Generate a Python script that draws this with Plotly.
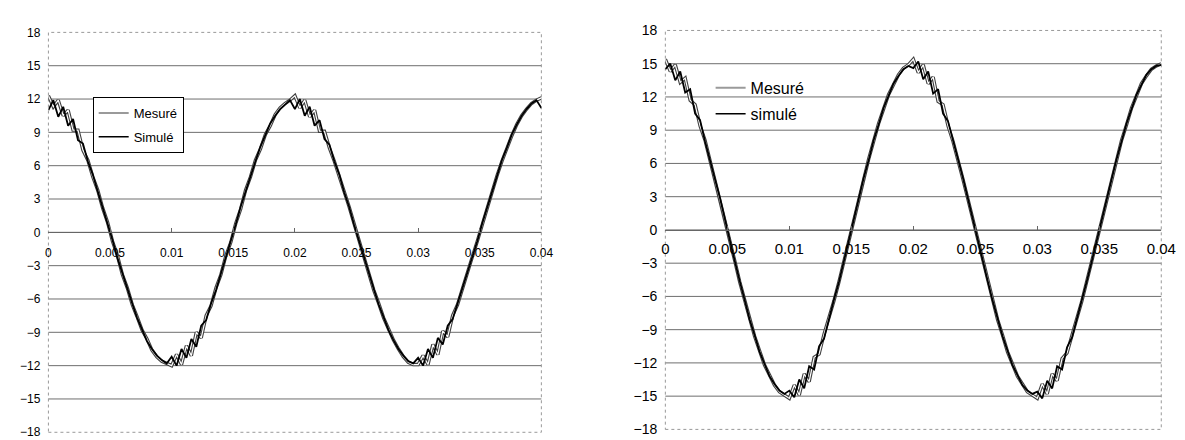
import plotly.graph_objects as go

# temps (s), pas de 0.4 ms
t = [0, 0.0004, 0.0008, 0.0012, 0.0016, 0.002, 0.0024, 0.0028, 0.0032, 0.0036,
     0.004, 0.0044, 0.0048, 0.0052, 0.0056, 0.006, 0.0064, 0.0068, 0.0072, 0.0076,
     0.008, 0.0084, 0.0088, 0.0092, 0.0096, 0.01, 0.0104, 0.0108, 0.0112, 0.0116,
     0.012, 0.0124, 0.0128, 0.0132, 0.0136, 0.014, 0.0144, 0.0148, 0.0152, 0.0156,
     0.016, 0.0164, 0.0168, 0.0172, 0.0176, 0.018, 0.0184, 0.0188, 0.0192, 0.0196,
     0.02, 0.0204, 0.0208, 0.0212, 0.0216, 0.022, 0.0224, 0.0228, 0.0232, 0.0236,
     0.024, 0.0244, 0.0248, 0.0252, 0.0256, 0.026, 0.0264, 0.0268, 0.0272, 0.0276,
     0.028, 0.0284, 0.0288, 0.0292, 0.0296, 0.03, 0.0304, 0.0308, 0.0312, 0.0316,
     0.032, 0.0324, 0.0328, 0.0332, 0.0336, 0.034, 0.0344, 0.0348, 0.0352, 0.0356,
     0.036, 0.0364, 0.0368, 0.0372, 0.0376, 0.038, 0.0384, 0.0388, 0.0392, 0.0396,
     0.04]

# graphe de gauche
mesure_g = [12.3, 11.3, 11.9, 10.5, 11.0, 9.2, 9.2, 7.4, 6.5, 5.0,
            3.8, 2.2, 0.9, -0.8, -2.1, -3.8, -5.0, -6.5, -7.6, -8.8,
            -9.6, -10.6, -11.2, -11.6, -11.8, -12.0, -11.0, -11.9, -10.2, -11.1,
            -9.0, -9.5, -7.5, -6.6, -5.0, -3.8, -2.1, -0.9, 0.8, 2.1,
            3.8, 5.0, 6.5, 7.5, 8.8, 9.6, 10.6, 11.2, 11.6, 11.9,
            12.3, 11.2, 11.9, 10.4, 11.0, 9.1, 9.1, 7.6, 6.4, 5.1,
            3.7, 2.3, 0.8, -0.7, -2.3, -3.7, -5.2, -6.4, -7.7, -8.7,
            -9.7, -10.5, -11.2, -11.7, -11.9, -11.9, -11.1, -11.9, -10.1, -11.0,
            -8.9, -9.4, -7.5, -6.5, -5.0, -3.7, -2.2, -0.8, 0.7, 2.2,
            3.7, 5.1, 6.4, 7.6, 8.7, 9.7, 10.5, 11.1, 11.6, 11.9,
            12.1]
simule_g = [11.0, 11.9, 10.4, 11.3, 9.6, 10.2, 8.3, 8.0, 6.4, 5.2,
            3.7, 2.3, 0.7, -0.7, -2.3, -3.7, -5.2, -6.4, -7.7, -8.7,
            -9.8, -10.5, -11.1, -11.5, -11.8, -11.2, -12.0, -10.5, -11.3, -9.6,
            -10.3, -8.4, -7.9, -6.4, -5.2, -3.7, -2.3, -0.7, 0.7, 2.3,
            3.7, 5.2, 6.4, 7.7, 8.7, 9.8, 10.5, 11.1, 11.5, 11.9,
            11.1, 12.0, 10.5, 11.3, 9.6, 10.1, 8.4, 7.9, 6.4, 5.2,
            3.6, 2.3, 0.7, -0.8, -2.2, -3.7, -5.1, -6.5, -7.6, -8.8,
            -9.7, -10.5, -11.1, -11.6, -11.8, -11.3, -12.0, -10.5, -11.3, -9.5,
            -10.1, -8.4, -7.8, -6.4, -5.1, -3.7, -2.2, -0.8, 0.8, 2.2,
            3.7, 5.1, 6.5, 7.6, 8.8, 9.7, 10.5, 11.1, 11.6, 11.9,
            11.2]

# graphe de droite
mesure_d = [15.4, 14.3, 14.9, 13.3, 13.7, 11.7, 11.3, 9.4, 8.1, 6.3,
            4.7, 2.8, 1.0, -0.9, -2.8, -4.7, -6.4, -8.0, -9.6, -10.9,
            -12.2, -13.1, -14.0, -14.6, -14.9, -15.2, -14.0, -14.9, -13.0, -13.7,
            -11.5, -11.2, -9.4, -8.0, -6.4, -4.7, -2.8, -0.9, 0.9, 2.8,
            4.6, 6.4, 8.0, 9.6, 10.9, 12.2, 13.1, 14.0, 14.6, 14.9,
            15.4, 14.2, 14.9, 13.2, 13.8, 11.6, 11.3, 9.4, 8.0, 6.4,
            4.6, 2.8, 1.0, -1.0, -2.8, -4.6, -6.4, -8.1, -9.5, -11.0,
            -12.1, -13.2, -13.9, -14.6, -14.9, -15.2, -13.9, -14.8, -13.0, -13.6,
            -11.6, -11.1, -9.5, -8.0, -6.4, -4.6, -2.8, -1.0, 1.0, 2.8,
            4.6, 6.4, 8.1, 9.5, 11.0, 12.1, 13.2, 13.9, 14.5, 14.8,
            15.0]
simule_d = [14.5, 15.0, 13.5, 14.3, 12.4, 12.7, 10.5, 9.9, 8.0, 6.4,
            4.6, 2.9, 0.9, -1.0, -2.8, -4.6, -6.4, -8.1, -9.5, -11.0,
            -12.1, -13.2, -13.9, -14.5, -14.8, -14.5, -15.1, -13.5, -14.3, -12.3,
            -12.6, -10.5, -9.8, -8.0, -6.3, -4.7, -2.8, -1.0, 1.0, 2.8,
            4.7, 6.3, 8.1, 9.5, 11.0, 12.1, 13.2, 13.9, 14.5, 14.8,
            14.6, 15.2, 13.6, 14.3, 12.3, 12.7, 10.5, 9.8, 8.0, 6.4,
            4.7, 2.8, 0.9, -0.9, -2.9, -4.6, -6.4, -8.0, -9.6, -10.9,
            -12.2, -13.1, -14.0, -14.5, -14.8, -14.6, -15.2, -13.6, -14.3, -12.3,
            -12.6, -10.6, -9.7, -8.0, -6.4, -4.6, -2.8, -0.9, 0.9, 2.9,
            4.6, 6.4, 8.0, 9.6, 10.9, 12.2, 13.1, 14.0, 14.5, 14.8,
            14.9]

x_ticks = [0, 0.005, 0.01, 0.015, 0.02, 0.025, 0.03, 0.035, 0.04]
x_labels = ["0", "0.005", "0.01", "0.015", "0.02", "0.025", "0.03", "0.035", "0.04"]
y_ticks = [-18, -15, -12, -9, -6, -3, 0, 3, 6, 9, 12, 15, 18]

W, H = 1185, 440
FONT = "Liberation Sans, Arial, sans-serif"

fig = go.Figure()

# (mesuré, simulé, noms légende, suffixe d'axe, zone en pixels, police x, police y, standoff x, légende)
panels = [
    (mesure_g, simule_g, ["Mesuré", "Simulé"], "", (37, 538, 17, 432), 12, 12, 9, "legend"),
    (mesure_d, simule_d, ["Mesuré", "simulé"], "2", (664, 1168, 15, 429), 15, 14, 5, "legend2"),
]

for mes, sim, noms, ax, (px0, px1, py0, py1), fx, fy, standoff, leg in panels:
    xa, ya = "x" + ax, "y" + ax
    # courbe mesurée : trait creux (contour gris foncé, coeur blanc)
    fig.add_trace(go.Scatter(x=t, y=mes, mode="lines", xaxis=xa, yaxis=ya,
                             line=dict(color="#404040", width=3.4), showlegend=False))
    fig.add_trace(go.Scatter(x=t, y=mes, mode="lines", xaxis=xa, yaxis=ya,
                             line=dict(color="white", width=1.2), showlegend=False))
    fig.add_trace(go.Scatter(x=t, y=sim, mode="lines", xaxis=xa, yaxis=ya,
                             line=dict(color="black", width=1.8), showlegend=False))
    # entrées de légende
    fig.add_trace(go.Scatter(x=[None], y=[None], mode="lines", xaxis=xa, yaxis=ya,
                             line=dict(color="#9a9a9a", width=2), name=noms[0],
                             legend=leg, legendgroup=leg + "a"))
    fig.add_trace(go.Scatter(x=[None], y=[None], mode="lines", xaxis=xa, yaxis=ya,
                             line=dict(color="black", width=1.5), name=noms[1],
                             legend=leg, legendgroup=leg + "b"))

    ydom = [1 - py1 / H, 1 - py0 / H]
    xdom = [px0 / W, px1 / W]
    zero_pos = ydom[0] + (0 - y_ticks[0]) / (y_ticks[-1] - y_ticks[0]) * (ydom[1] - ydom[0])

    fig.update_layout(**{
        "xaxis" + ax: dict(domain=xdom, range=[0, 0.04], anchor="free", position=zero_pos,
                           tickvals=x_ticks, ticktext=x_labels, showgrid=False, zeroline=False,
                           showline=True, linecolor="#666", linewidth=1,
                           ticks="inside", ticklen=4, tickcolor="#666",
                           ticklabelstandoff=standoff,
                           tickfont=dict(size=fx, color="black")),
        "yaxis" + ax: dict(domain=ydom, range=[-18, 18], anchor="x" + ax,
                           tickvals=y_ticks, showgrid=False, zeroline=False, showline=False,
                           ticks="", ticklabelstandoff=7,
                           tickfont=dict(size=fy, color="black")),
    })

    # quadrillage horizontal
    for v in y_ticks[1:-1]:
        fig.add_shape(type="line", xref=xa + " domain", yref=ya, x0=0, x1=1, y0=v, y1=v,
                      line=dict(color="#6e6e6e", width=1), layer="below")
    # cadre pointillé
    fig.add_shape(type="rect", xref=xa + " domain", yref=ya + " domain", x0=0, x1=1, y0=0, y1=1,
                  line=dict(color="#999", width=1, dash="dot"), layer="below")

fig.update_layout(
    width=W, height=H,
    margin=dict(l=0, r=0, t=0, b=0),
    paper_bgcolor="white", plot_bgcolor="white",
    font=dict(family=FONT, color="black"),
    legend=dict(x=82 / W, y=1 - 84 / H, xanchor="left", yanchor="top",
                bgcolor="white", bordercolor="black", borderwidth=1,
                font=dict(size=13), itemwidth=30, tracegroupgap=4, traceorder="grouped"),
    legend2=dict(x=710 / W, y=1 - 57 / H, xanchor="left", yanchor="top",
                 bgcolor="rgba(0,0,0,0)", borderwidth=0,
                 font=dict(size=16), itemwidth=30, tracegroupgap=2, traceorder="grouped"),
)

fig.write_html("out.html")
